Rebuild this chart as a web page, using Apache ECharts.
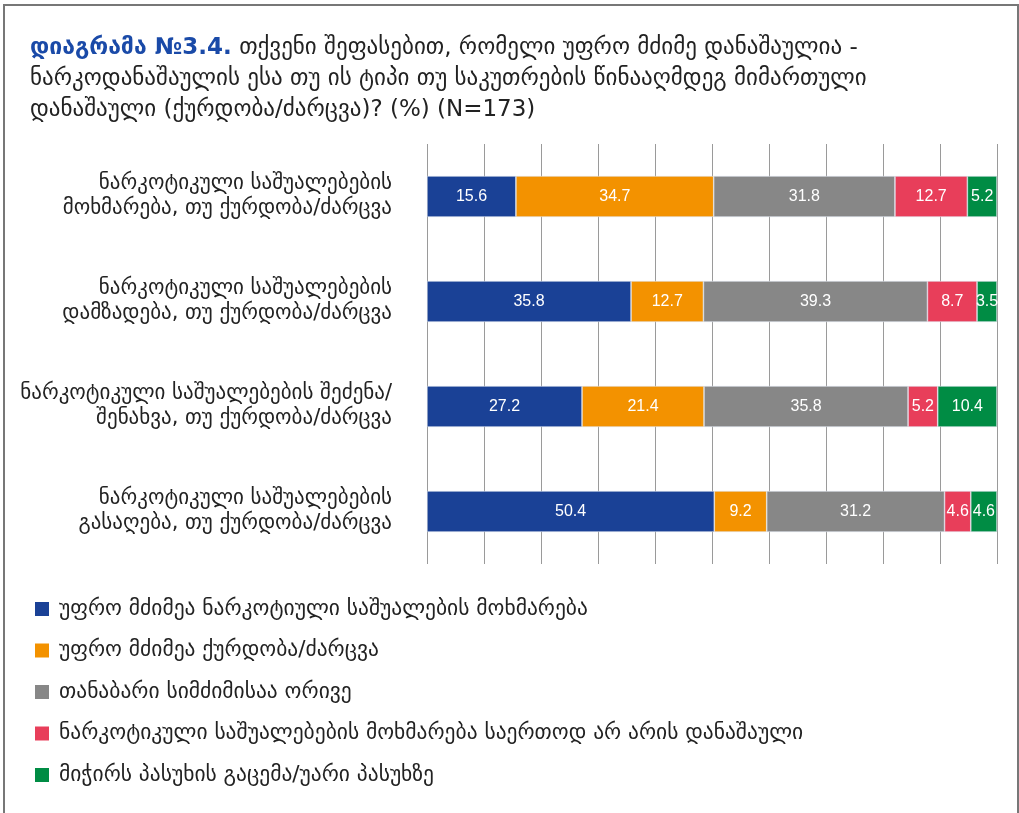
<!DOCTYPE html>
<html>
<head>
<meta charset="utf-8">
<script src="https://cdn.jsdelivr.net/npm/echarts@6/dist/echarts.min.js"></script>
<style>
  html, body { margin: 0; padding: 0; background: #fff; }
  #main { width: 1019px; height: 813px; }
</style>
</head>
<body>
<div id="main"></div>
<script>
// კატეგორიები (ზემოდან ქვემოთ)
var categories = [
    'ნარკოტიკული საშუალებების\nმოხმარება, თუ ქურდობა/ძარცვა',
    'ნარკოტიკული საშუალებების\nდამზადება, თუ ქურდობა/ძარცვა',
    'ნარკოტიკული საშუალებების შეძენა/\nშენახვა, თუ ქურდობა/ძარცვა',
    'ნარკოტიკული საშუალებების\nგასაღება, თუ ქურდობა/ძარცვა'
];

var seriesNames = [
    'უფრო მძიმეა ნარკოტიული საშუალების მოხმარება',
    'უფრო მძიმეა ქურდობა/ძარცვა',
    'თანაბარი სიმძიმისაა ორივე',
    'ნარკოტიკული საშუალებების მოხმარება საერთოდ არ არის დანაშაული',
    'მიჭირს პასუხის გაცემა/უარი პასუხზე'
];

var drugWorse  = [15.6, 35.8, 27.2, 50.4];
var theftWorse = [34.7, 12.7, 21.4, 9.2];
var equal      = [31.8, 39.3, 35.8, 31.2];
var notCrime   = [12.7, 8.7, 5.2, 4.6];
var noAnswer   = [5.2, 3.5, 10.4, 4.6];

var colors = ['#1a4196', '#f39200', '#878787', '#e83e5a', '#008c44'];

var geoFont = '"DejaVu Sans", "Liberation Sans", sans-serif';
var numFont = '"Liberation Sans Narrow", "Liberation Sans", sans-serif';

function makeSeries(name, data, color) {
    return {
        name: name,
        type: 'bar',
        stack: 'total',
        barWidth: 41,
        data: data,
        itemStyle: { color: color, borderColor: '#dfe6f0', borderWidth: 0.6 },
        label: {
            show: true,
            position: 'inside',
            color: '#fff',
            fontSize: 16,
            fontFamily: numFont
        },
        emphasis: { disabled: true }
    };
}

var myChart = echarts.init(document.getElementById('main'));

var option = {
    backgroundColor: '#fff',
    animation: false,
    color: colors,
    title: {
        left: 25,
        top: 28,
        text: '{b|დიაგრამა №3.4.} თქვენი შეფასებით, რომელი უფრო მძიმე დანაშაულია -\nნარკოდანაშაულის ესა თუ ის ტიპი თუ საკუთრების წინააღმდეგ მიმართული\nდანაშაული (ქურდობა/ძარცვა)? (%) (N=173)',
        textStyle: {
            color: '#222',
            fontSize: 23,
            fontWeight: 'normal',
            fontFamily: geoFont,
            lineHeight: 31,
            rich: {
                b: {
                    color: '#1a4aa8',
                    fontSize: 23,
                    fontWeight: 'bold',
                    fontFamily: geoFont,
                    lineHeight: 31
                }
            }
        }
    },
    legend: {
        orient: 'vertical',
        left: 35,
        top: 598,
        padding: 0,
        icon: 'rect',
        itemWidth: 14,
        itemHeight: 14,
        itemGap: 19.5,
        selectedMode: false,
        itemStyle: { borderWidth: 0 },
        textStyle: { fontSize: 21.5, lineHeight: 20, color: '#222', fontFamily: geoFont, padding: [0, 0, 0, 5] },
        data: seriesNames
    },
    grid: {
        left: 427,
        right: 22,
        top: 144,
        bottom: 249
    },
    xAxis: {
        type: 'value',
        min: 0,
        max: 100,
        interval: 10,
        axisLabel: { show: false },
        axisLine: { show: false },
        axisTick: { show: false },
        splitLine: { lineStyle: { color: '#9a9a9a', width: 1 } }
    },
    yAxis: {
        type: 'category',
        inverse: true,
        data: categories,
        axisLine: { show: false },
        axisTick: { show: false },
        axisLabel: {
            margin: 35,
            align: 'right',
            fontSize: 21,
            lineHeight: 25,
            color: '#222',
            fontFamily: geoFont
        }
    },
    graphic: [{
        type: 'rect',
        shape: { x: 4, y: 5, width: 1014, height: 830 },
        style: { fill: 'none', stroke: '#777', lineWidth: 2 },
        silent: true
    }],
    series: [
        makeSeries(seriesNames[0], drugWorse, colors[0]),
        makeSeries(seriesNames[1], theftWorse, colors[1]),
        makeSeries(seriesNames[2], equal, colors[2]),
        makeSeries(seriesNames[3], notCrime, colors[3]),
        makeSeries(seriesNames[4], noAnswer, colors[4])
    ]
};

myChart.setOption(option);
</script>
</body>
</html>
